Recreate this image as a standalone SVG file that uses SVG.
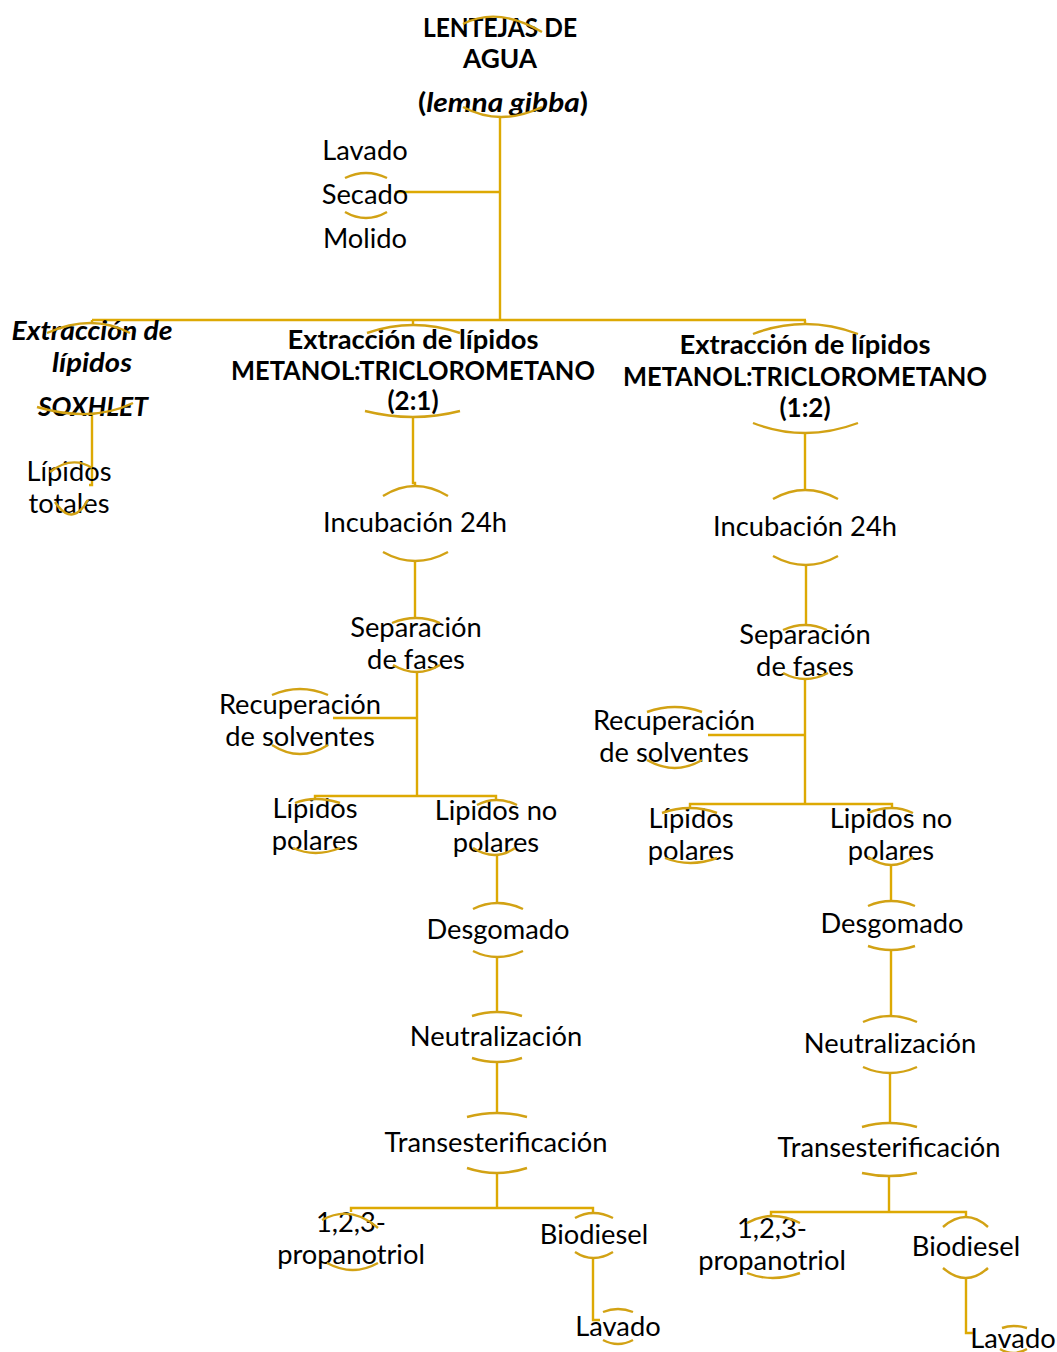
<svg xmlns="http://www.w3.org/2000/svg" width="1057" height="1352" viewBox="0 0 1057 1352">
<style>
text{font-family:Lato,"Liberation Sans",sans-serif;font-size:27.3px;fill:#000;text-anchor:middle}
.b{font-weight:bold;font-size:26px}
.bi{font-weight:bold;font-style:italic;font-size:26px}
.arc{fill:none;stroke:#D2A214;stroke-width:2.4;stroke-linecap:butt}
.ln{fill:none;stroke:#DDA903;stroke-width:2.4}
</style>
<rect width="1057" height="1352" fill="#fff"/>
<g id="connectors" class="ln">
<path d="M500,117 V320"/>
<path d="M395,192 H500"/>
<path d="M92,320 H806"/>
<path d="M92,320 V323 M413,320 V325 M805,320 V324"/>
<path d="M92,415 V485 H89"/>
<path d="M413,417 V483 H415 V486"/>
<path d="M415,562 V618"/>
<path d="M417,672 V796"/>
<path d="M333,718 H417"/>
<path d="M315,800 V796 H496 V801"/>
<path d="M497,855 V903"/>
<path d="M497,957 V1012"/>
<path d="M497,1062 V1113"/>
<path d="M497,1173 V1208"/>
<path d="M351,1212 V1208 H593 V1213"/>
<path d="M593,1258 V1320 H600"/>
<path d="M805,433 V490"/>
<path d="M806,565 V625"/>
<path d="M805,679 V804"/>
<path d="M708,735 H805"/>
<path d="M690,808 V804 H892 V808"/>
<path d="M891,865 V901"/>
<path d="M891,950 V1016"/>
<path d="M890,1073 V1123"/>
<path d="M889,1176 V1212"/>
<path d="M771,1216 V1212 H966 V1217"/>
<path d="M966,1278 V1333 H973"/>
</g>
<g id="title">
<text class="b" x="500" y="37" textLength="154" lengthAdjust="spacingAndGlyphs">LENTEJAS DE</text>
<text class="b" x="500" y="68" textLength="74" lengthAdjust="spacingAndGlyphs">AGUA</text>
<text class="b" x="503" y="112" textLength="170" lengthAdjust="spacingAndGlyphs">(<tspan font-style="italic">lemna gibba</tspan>)</text>
<path class="arc" d="M463,24 Q498,6 542,32"/>
<path class="arc" d="M463,107 Q500,127 542,107"/>
</g>
<g id="pretratamiento">
<text x="365" y="160">Lavado</text>
<text x="365" y="204">Secado</text>
<text x="365" y="248">Molido</text>
<path class="arc" d="M345,178 Q366,168 387,178"/>
<path class="arc" d="M345,212 Q366,224 387,212"/>
</g>
<g id="soxhlet">
<text class="bi" x="92" y="340" textLength="161" lengthAdjust="spacingAndGlyphs">Extracción de</text>
<text class="bi" x="92" y="372" textLength="80" lengthAdjust="spacingAndGlyphs">lípidos</text>
<text class="bi" x="93" y="416" textLength="110" lengthAdjust="spacingAndGlyphs">SOXHLET</text>
<path class="arc" d="M47,333 Q92,313 130,333"/>
<path class="arc" d="M37,407 Q92,423 133,403"/>
</g>
<g id="lipidos-totales">
<text x="69" y="481">Lípidos</text>
<text x="69" y="513">totales</text>
<path class="arc" d="M50,472 Q72,455 92,468"/>
<path class="arc" d="M55,502 Q72,528 88,500"/>
</g>
<g id="extraccion-2-1">
<text class="b" x="413" y="349" textLength="251" lengthAdjust="spacingAndGlyphs">Extracción de lípidos</text>
<text class="b" x="413" y="380" textLength="364" lengthAdjust="spacingAndGlyphs">METANOL:TRICLOROMETANO</text>
<text class="b" x="413" y="410">(2:1)</text>
<path class="arc" d="M367,333 Q413,317 460,333"/>
<path class="arc" d="M365,411 Q413,423 460,411"/>
</g>
<g id="incubacion-1">
<text x="415" y="532">Incubación 24h</text>
<path class="arc" d="M383,496 Q415,476 448,496"/>
<path class="arc" d="M383,552 Q415,570 448,552"/>
</g>
<g id="separacion-1">
<text x="416" y="637">Separación</text>
<text x="416" y="669">de fases</text>
<path class="arc" d="M392,623 Q416,613 440,623"/>
<path class="arc" d="M393,665 Q417,679 440,665"/>
</g>
<g id="recuperacion-1">
<text x="300" y="714">Recuperación</text>
<text x="300" y="746">de solventes</text>
<path class="arc" d="M272,695 Q300,683 328,695"/>
<path class="arc" d="M272,745 Q300,763 328,745"/>
</g>
<g id="polares-1">
<text x="315" y="818">Lípidos</text>
<text x="315" y="850">polares</text>
<path class="arc" d="M295,803 Q315,795 340,803"/>
<path class="arc" d="M293,848 Q315,858 340,848"/>
</g>
<g id="no-polares-1">
<text x="496" y="820">Lipidos no</text>
<text x="496" y="852">polares</text>
<path class="arc" d="M477,805 Q496,795 517,805"/>
<path class="arc" d="M473,848 Q495,862 515,848"/>
</g>
<g id="desgomado-1">
<text x="498" y="939">Desgomado</text>
<path class="arc" d="M473,909 Q497,897 523,909"/>
<path class="arc" d="M473,951 Q497,963 523,951"/>
</g>
<g id="neutralizacion-1">
<text x="496" y="1046">Neutralización</text>
<path class="arc" d="M472,1016 Q497,1008 522,1016"/>
<path class="arc" d="M472,1058 Q497,1066 522,1058"/>
</g>
<g id="transesterificacion-1">
<text x="496" y="1152">Transesterificación</text>
<path class="arc" d="M467,1117 Q497,1109 527,1117"/>
<path class="arc" d="M467,1168 Q497,1178 527,1168"/>
</g>
<g id="propanotriol-1">
<text x="351" y="1232">1,2,3-</text>
<text x="351" y="1264">propanotriol</text>
<path class="arc" d="M322,1220 Q351,1204 378,1228"/>
<path class="arc" d="M327,1263 Q353,1277 378,1263"/>
</g>
<g id="biodiesel-1">
<text x="594" y="1244">Biodiesel</text>
<path class="arc" d="M575,1218 Q593,1208 613,1218"/>
<path class="arc" d="M575,1252 Q593,1264 613,1252"/>
</g>
<g id="lavado-1">
<text x="618" y="1336">Lavado</text>
<path class="arc" d="M603,1312 Q618,1306 633,1312"/>
<path class="arc" d="M603,1340 Q618,1348 633,1340"/>
</g>
<g id="extraccion-1-2">
<text class="b" x="805" y="354" textLength="251" lengthAdjust="spacingAndGlyphs">Extracción de lípidos</text>
<text class="b" x="805" y="386" textLength="364" lengthAdjust="spacingAndGlyphs">METANOL:TRICLOROMETANO</text>
<text class="b" x="805" y="417">(1:2)</text>
<path class="arc" d="M753,334 Q805,314 858,334"/>
<path class="arc" d="M753,423 Q805,443 858,423"/>
</g>
<g id="incubacion-2">
<text x="805" y="536">Incubación 24h</text>
<path class="arc" d="M773,499 Q805,481 838,499"/>
<path class="arc" d="M773,556 Q806,574 838,556"/>
</g>
<g id="separacion-2">
<text x="805" y="644">Separación</text>
<text x="805" y="676">de fases</text>
<path class="arc" d="M783,630 Q805,620 827,630"/>
<path class="arc" d="M783,673 Q805,685 828,673"/>
</g>
<g id="recuperacion-2">
<text x="674" y="730">Recuperación</text>
<text x="674" y="762">de solventes</text>
<path class="arc" d="M647,712 Q675,702 702,712"/>
<path class="arc" d="M647,760 Q675,776 702,760"/>
</g>
<g id="polares-2">
<text x="691" y="828">Lípidos</text>
<text x="691" y="860">polares</text>
<path class="arc" d="M662,813 Q690,803 717,813"/>
<path class="arc" d="M665,858 Q690,868 717,858"/>
</g>
<g id="no-polares-2">
<text x="891" y="828">Lipidos no</text>
<text x="891" y="860">polares</text>
<path class="arc" d="M868,813 Q892,803 913,813"/>
<path class="arc" d="M868,857 Q892,873 913,857"/>
</g>
<g id="desgomado-2">
<text x="892" y="933">Desgomado</text>
<path class="arc" d="M868,906 Q891,896 915,906"/>
<path class="arc" d="M868,946 Q891,954 915,946"/>
</g>
<g id="neutralizacion-2">
<text x="890" y="1053">Neutralización</text>
<path class="arc" d="M863,1022 Q890,1010 917,1022"/>
<path class="arc" d="M863,1067 Q890,1079 917,1067"/>
</g>
<g id="transesterificacion-2">
<text x="889" y="1157">Transesterificación</text>
<path class="arc" d="M862,1127 Q889,1119 917,1127"/>
<path class="arc" d="M862,1173 Q889,1179 917,1173"/>
</g>
<g id="propanotriol-2">
<text x="772" y="1238">1,2,3-</text>
<text x="772" y="1270">propanotriol</text>
<path class="arc" d="M747,1223 Q772,1209 800,1223"/>
<path class="arc" d="M747,1273 Q772,1283 800,1273"/>
</g>
<g id="biodiesel-2">
<text x="966" y="1256">Biodiesel</text>
<path class="arc" d="M943,1227 Q966,1207 988,1227"/>
<path class="arc" d="M943,1268 Q966,1288 988,1268"/>
</g>
<g id="lavado-2">
<text x="1013" y="1348">Lavado</text>
<path class="arc" d="M1002,1328 Q1013,1324 1027,1328"/>
<path class="arc" d="M1000,1349 Q1013,1357 1027,1349"/>
</g>
</svg>
